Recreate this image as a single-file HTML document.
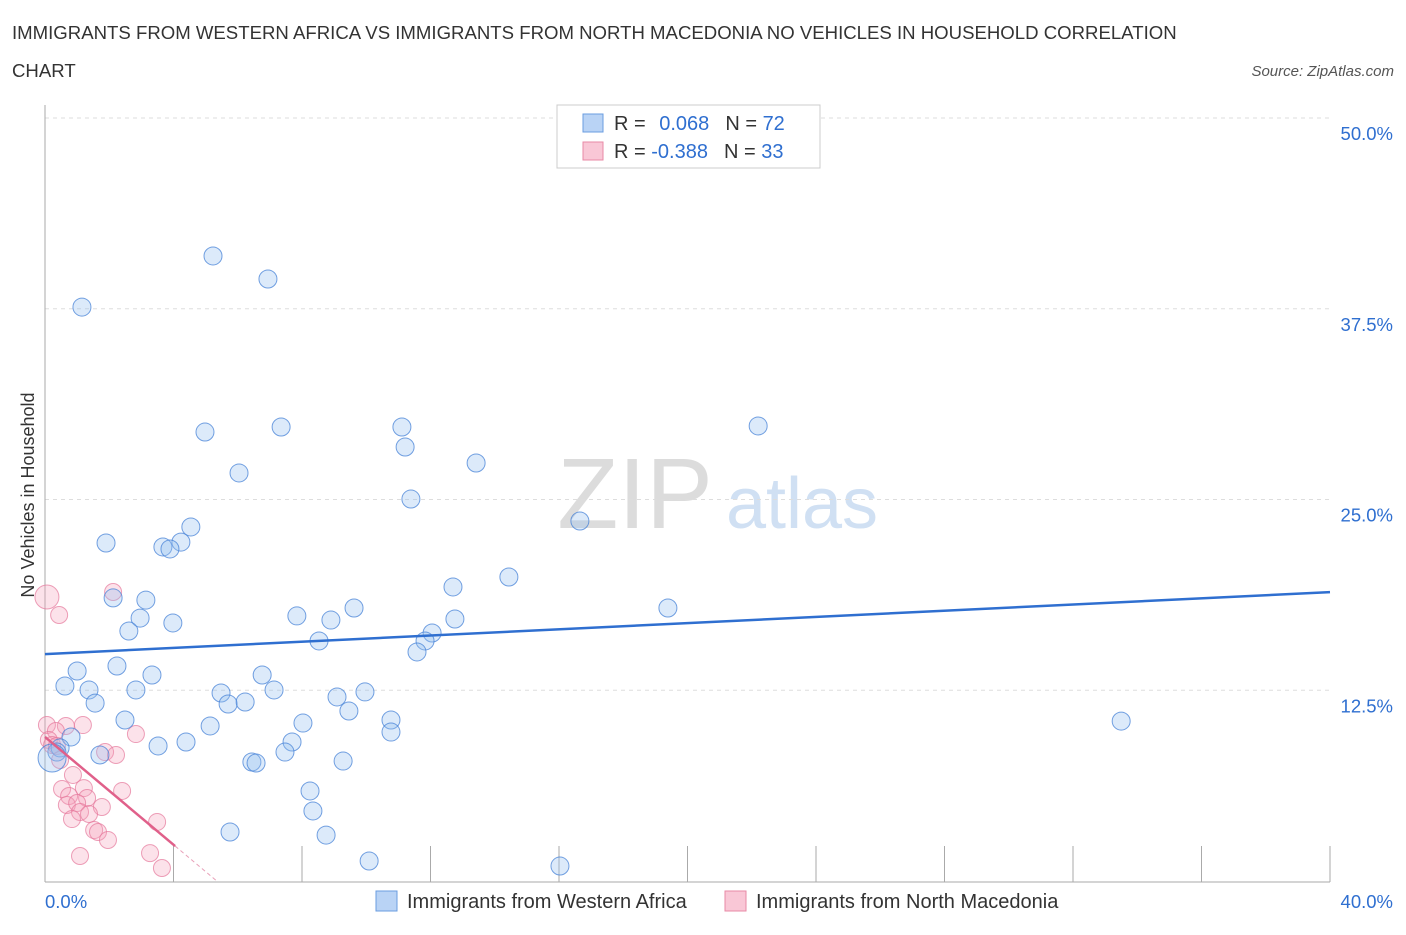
<!DOCTYPE html>
<html><head><meta charset="utf-8"><style>
body{margin:0;background:#fff;font-family:"Liberation Sans",sans-serif;}
svg text{font-family:"Liberation Sans",sans-serif;}
</style></head><body>
<svg id="c" width="1406" height="930">
<text x="12" y="39" font-size="18.6" fill="#333">IMMIGRANTS FROM WESTERN AFRICA VS IMMIGRANTS FROM NORTH MACEDONIA NO VEHICLES IN HOUSEHOLD CORRELATION</text>
<text x="12" y="77" font-size="18.6" fill="#333">CHART</text>
<text x="1394" y="76" font-size="15" fill="#555" font-style="italic" text-anchor="end">Source: ZipAtlas.com</text>
<text x="635" y="528" font-size="100" fill="#dcdcdc" font-family="Liberation Serif" text-anchor="middle">ZIP</text>
<text x="802" y="528" font-size="72" fill="#d0e0f3" text-anchor="middle">atlas</text>
<text transform="translate(34,495) rotate(-90)" font-size="18" fill="#333" text-anchor="middle">No Vehicles in Household</text>
<g id="grid"></g><g id="pts"></g><g id="lines"></g>
<g>
<rect x="557" y="105" width="263" height="63" fill="#fff" stroke="#ccc"/>
<rect x="583" y="114" width="20" height="18" fill="#b9d3f5" stroke="#6a9de0"/>
<rect x="583" y="142" width="20" height="18" fill="#f9c7d6" stroke="#e88aa6"/>
<text x="614" y="130" font-size="20" fill="#333">R = <tspan fill="#2f6fd0" dx="8">0.068</tspan><tspan dx="16" fill="#333">N = </tspan><tspan fill="#2f6fd0">72</tspan></text>
<text x="614" y="158" font-size="20" fill="#333">R = <tspan fill="#2f6fd0">-0.388</tspan><tspan dx="16" fill="#333">N = </tspan><tspan fill="#2f6fd0">33</tspan></text>
</g>
<g>
<rect x="376" y="891" width="21" height="20" fill="#b9d3f5" stroke="#6a9de0"/>
<text x="407" y="908" font-size="20" fill="#333">Immigrants from Western Africa</text>
<rect x="725" y="891" width="21" height="20" fill="#f9c7d6" stroke="#e88aa6"/>
<text x="756" y="908" font-size="20" fill="#333">Immigrants from North Macedonia</text>
</g>
<text x="45" y="908" font-size="18.5" fill="#2f6fd0">0.0%</text>
<text x="1393" y="908" font-size="18.5" fill="#2f6fd0" text-anchor="end">40.0%</text>
</svg>
<script>
const yTicks=[12.5,25,37.5,50];
const yTickLabels=["12.5%","25.0%","37.5%","50.0%"];
const xTicks=[4,8,12,16,20,24,28,32,36,40];
const blueX=[1.15,5.23,6.94,4.98,7.35,11.11,11.21,13.42,6.04,11.39,22.2,16.65,1.9,4.54,4.23,3.67,3.89,14.44,12.7,2.12,3.14,2.96,3.98,7.84,8.9,9.62,12.76,19.39,2.61,8.53,12.05,11.83,11.58,2.24,1.0,3.33,6.76,0.62,1.37,2.83,7.13,5.48,5.7,6.23,9.09,9.96,1.56,9.46,2.49,5.14,8.03,10.77,10.77,33.5,0.81,4.39,3.52,7.69,0.47,0.37,1.71,7.47,6.44,6.57,9.28,8.25,8.34,5.76,8.75,10.09,16.03,0.22];
const blueY=[37.61,40.96,39.45,29.42,29.75,29.75,28.44,27.39,26.74,25.03,29.82,23.59,22.15,23.2,22.21,21.89,21.76,19.92,19.27,18.55,18.41,17.23,16.91,17.37,17.1,17.89,17.17,17.89,16.38,15.73,16.25,15.73,15.01,14.09,13.76,13.5,13.5,12.78,12.52,12.52,12.52,12.32,11.6,11.73,12.06,12.39,11.66,11.14,10.55,10.16,10.35,10.55,9.76,10.48,9.44,9.11,8.85,9.11,8.72,8.45,8.26,8.45,7.8,7.73,7.86,5.9,4.59,3.21,3.01,1.31,0.98,8.06];
const pinkX=[0.06,0.44,2.12,0.06,0.65,1.18,0.34,0.12,0.22,2.83,1.87,2.21,0.87,0.53,1.21,0.75,1.31,1.77,0.68,1.0,1.09,1.37,2.4,0.84,1.53,1.65,1.96,3.49,1.09,3.27,3.64,0.37,0.47];
const pinkY=[18.61,17.43,18.94,10.22,10.16,10.22,9.83,9.24,8.91,9.63,8.45,8.26,6.95,6.03,6.09,5.57,5.44,4.85,4.98,5.11,4.52,4.39,5.9,4.06,3.34,3.21,2.69,3.87,1.64,1.83,0.85,8.85,7.93];
const blueLine=[14.87,18.93];
const pinkLine=[9.44,2.29];
const NS="http://www.w3.org/2000/svg";
const sx=v=>45+v/40*1285, sy=v=>881-v/50*763;
function mk(t,a,p){const e=document.createElementNS(NS,t);for(const k in a)e.setAttribute(k,a[k]);p.appendChild(e);return e;}
const grid=document.getElementById('grid'),pts=document.getElementById('pts'),lines=document.getElementById('lines');
yTicks.forEach((t,i)=>{
 const l=mk('line',{x1:45,x2:1330,y1:sy(t),y2:sy(t),stroke:'#ddd','stroke-dasharray':'4 4'},grid);
 
 
 const tx=mk('text',{x:1393,y:sy(t)+22,'font-size':18.5,fill:'#2f6fd0','text-anchor':'end'},grid);
 tx.textContent=yTickLabels[i];
 
 
});
const ax=mk('line',{x1:45,x2:45,y1:105,y2:882,stroke:'#aaa'},grid);


const bx=mk('line',{x1:45,x2:1330,y1:882,y2:882,stroke:'#aaa'},grid);


xTicks.forEach(t=>{
 const l=mk('line',{x1:sx(t),x2:sx(t),y1:846,y2:882,stroke:'#aaa'},grid);
 
 
});
function dot(x,y,r,fill,stroke,name){
 const c=mk('circle',{cx:sx(x),cy:sy(y),r:r,fill:fill,stroke:stroke,'stroke-width':1},pts);
 
 
}
pinkX.forEach((x,i)=>dot(x,pinkY[i],i==0?12:8.5,'rgba(245,160,185,0.3)','rgba(230,120,155,0.7)','pink-point'));
blueX.forEach((x,i)=>dot(x,blueY[i],i==blueX.length-1?14:9,'rgba(150,190,240,0.33)','rgba(70,130,215,0.75)','blue-point'));
const bl=mk('line',{x1:sx(0),y1:sy(blueLine[0]),x2:sx(40),y2:sy(blueLine[1]),stroke:'#2f6fd0','stroke-width':2.5},lines);


const slope=(pinkLine[1]-pinkLine[0])/4.05;
const pl=mk('line',{x1:sx(0),y1:sy(pinkLine[0]),x2:sx(4.05),y2:sy(pinkLine[1]),stroke:'#e0608a','stroke-width':2.5},lines);


const pd=mk('line',{x1:sx(4.05),y1:sy(pinkLine[1]),x2:sx(4.05-pinkLine[1]/slope),y2:sy(0),stroke:'#e8a0b8','stroke-width':1,'stroke-dasharray':'4 3'},lines);


</script>
</body></html>
